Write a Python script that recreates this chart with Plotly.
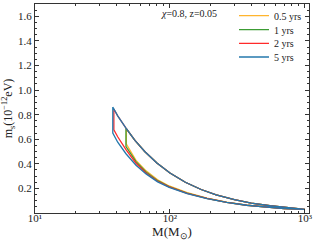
import plotly.graph_objects as go

# ---- data ----
UPPER_M = [37.7, 38.4, 41, 47.2, 55, 65, 80, 100, 130, 170, 220, 300, 400, 550, 750, 1000]
UPPER_MS = [0.862, 0.846, 0.79, 0.69, 0.59, 0.50, 0.406, 0.325, 0.25, 0.191, 0.148, 0.108, 0.081, 0.059, 0.0435, 0.0325]

SERIES = ["0.5 yrs", "1 yrs", "2 yrs", "5 yrs"]
COLORS = ["#FFB52E", "#3C9C34", "#FF2A2A", "#2478AC"]

LEFT_M = [47.5, 47.2, 38.4, 37.7]
LEFT_TOP = [0.685, 0.69, 0.846, 0.862]
LEFT_BOTTOM = [0.56, 0.54, 0.677, 0.650]

LOWER_M_5 = [41, 47.2, 56, 66.5, 81, 98.6, 134, 188, 263, 370, 500, 700, 1000]
LOWER_MS_5 = [0.576, 0.482, 0.388, 0.318, 0.253, 0.209, 0.158, 0.117, 0.086, 0.063, 0.048, 0.036, 0.029]
LOWER_M_2 = [41, 47.2, 56, 66.5, 81, 98.6, 134, 188, 263, 370, 500, 700, 1000]
LOWER_MS_2 = [0.62, 0.515, 0.405, 0.326, 0.258, 0.212, 0.160, 0.118, 0.087, 0.063, 0.048, 0.036, 0.029]
LOWER_M_1 = [56, 66.5, 81, 98.6, 134, 188, 263, 370, 500, 700, 1000]
LOWER_MS_1 = [0.418, 0.334, 0.263, 0.215, 0.162, 0.119, 0.087, 0.063, 0.048, 0.036, 0.029]
LOWER_M_05 = [56, 66.5, 81, 98.6, 134, 188, 263, 370, 500, 700, 1000]
LOWER_MS_05 = [0.428, 0.343, 0.270, 0.220, 0.165, 0.120, 0.088, 0.064, 0.048, 0.036, 0.029]

LOWER = [(LOWER_M_05, LOWER_MS_05), (LOWER_M_1, LOWER_MS_1), (LOWER_M_2, LOWER_MS_2), (LOWER_M_5, LOWER_MS_5)]

X_TICKS = [10, 100, 1000]
X_TICKTEXT = ["10¹", "10²", "10³"]
Y_TICKS = [0.2, 0.4, 0.6, 0.8, 1.0, 1.2, 1.4, 1.6]
Y_TICKTEXT = ["0.2", "0.4", "0.6", "0.8", "1.0", "1.2", "1.4", "1.6"]

FONT = "Liberation Serif, Times New Roman, serif"

fig = go.Figure()
for i, name in enumerate(SERIES):
    lm = LEFT_M[i]
    ux = [m for m in UPPER_M if m > lm]
    uy = [v for m, v in zip(UPPER_M, UPPER_MS) if m > lm]
    lx, ly = LOWER[i]
    xs = [lm] + ux + list(reversed(lx)) + [lm, lm]
    ys = [LEFT_TOP[i]] + uy + list(reversed(ly)) + [LEFT_BOTTOM[i], LEFT_TOP[i]]
    lg = "legend" if i == 0 else f"legend{i+1}"
    fig.add_trace(go.Scatter(x=xs, y=ys, mode="lines", name=name,
                             line=dict(color=COLORS[i], width=1.3),
                             legend=lg, showlegend=True))

legend_rows = [15.7, 29.7, 43.3, 57.0]
layout_legends = {}
for i in range(4):
    key = "legend" if i == 0 else f"legend{i+1}"
    layout_legends[key] = dict(x=234 / 317, y=1 - legend_rows[i] / 244, xref="container", yref="container",
                               xanchor="left", yanchor="middle",
                               bgcolor="rgba(0,0,0,0)", borderwidth=0,
                               font=dict(family=FONT, size=10, color="#222"),
                               itemwidth=30, tracegroupgap=0)

axis_common = dict(showline=True, linecolor="#333", linewidth=1, mirror="ticks",
                   ticks="inside", ticklen=4, tickcolor="#333", showgrid=False, zeroline=False,
                   automargin=False,
                   tickfont=dict(family=FONT, size=11, color="#222"))

fig.update_layout(
    width=317, height=244,
    margin=dict(l=35, r=8, t=4, b=31, autoexpand=False),
    paper_bgcolor="white", plot_bgcolor="white",
    font=dict(family=FONT, color="#222"),
    xaxis=dict(type="log", range=[1, 3.03], tickvals=X_TICKS, ticktext=X_TICKTEXT,
               ticklabelstandoff=-5,
               title=dict(text="M(M<sub>⊙</sub>)", font=dict(family=FONT, size=13), standoff=0),
               minor=dict(ticks="inside", ticklen=2, tickcolor="#333",
                          tickvals=[20, 30, 40, 50, 60, 70, 80, 90, 200, 300, 400, 500, 600, 700, 800, 900]),
               **axis_common),
    yaxis=dict(range=[0.0, 1.7], tickvals=Y_TICKS, ticktext=Y_TICKTEXT,
               title=dict(text="m<sub>s</sub>(10<sup>−12</sup>eV)", font=dict(family=FONT, size=12), standoff=5),
               minor=dict(ticks="inside", ticklen=2, tickcolor="#333", dtick=0.05, tick0=0),
               **axis_common),
    annotations=[dict(text="<i>χ</i>=0.8, z=0.05", x=0.452, y=0.955, xref="paper", yref="paper",
                      xanchor="left", yanchor="middle", showarrow=False,
                      font=dict(family=FONT, size=10, color="#222"))],
    **layout_legends,
)

fig.write_html("out.html", config={"displayModeBar": False},
               post_script="document.body.style.margin='0';document.body.style.overflow='hidden';")
